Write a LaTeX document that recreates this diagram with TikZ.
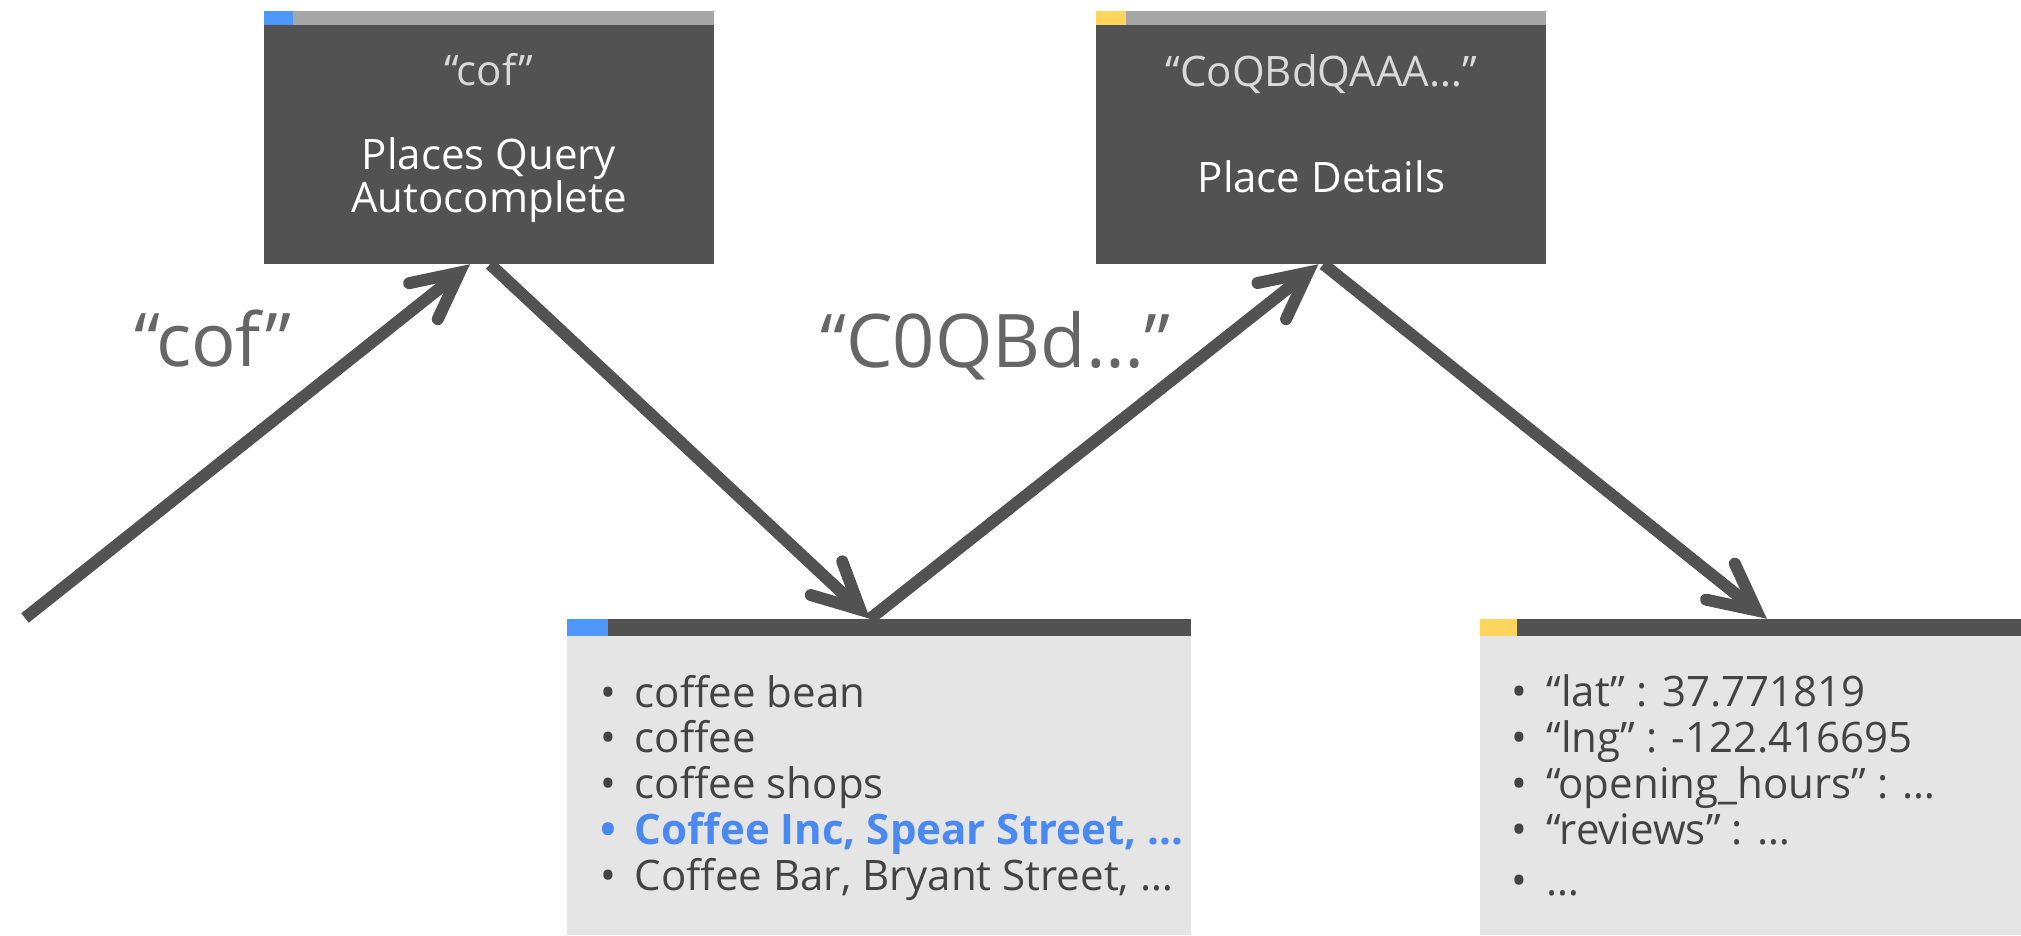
\documentclass[tikz,border=0pt]{standalone}
\usepackage{fontspec}
\setmainfont{Open Sans}
\usepackage{xcolor}
\usepackage{tikz}
\usetikzlibrary{arrows.meta,positioning}
\definecolor{boxdark}{RGB}{82,82,82}
\definecolor{stripgray}{RGB}{166,166,166}
\definecolor{acblue}{RGB}{77,152,250}
\definecolor{hlblue}{RGB}{74,137,240}
\definecolor{pdyellow}{RGB}{255,213,94}
\definecolor{listgray}{RGB}{229,229,229}
\definecolor{listtext}{RGB}{67,67,67}
\definecolor{labelgray}{RGB}{102,102,102}
\definecolor{quotegray}{RGB}{217,217,217}
\tikzset{
  apibox/.style={rectangle, fill=boxdark, minimum width=450pt, minimum height=253pt, inner sep=0pt},
  listbox/.style={rectangle, fill=listgray, minimum height=316pt, inner sep=0pt},
  boxquote/.style={anchor=base, text=quotegray, font=\fontsize{42}{43}\selectfont, inner sep=0pt},
  boxtitle/.style={anchor=north, align=center, text=white, font=\fontsize{42}{43}\selectfont, inner sep=0pt},
  listtxt/.style={anchor=north west, align=left, text=listtext, font=\fontsize{42}{45.75}\selectfont, inner sep=0pt},
  flowlabel/.style={anchor=base, text=labelgray, font=\fontsize{74}{80}\selectfont, inner sep=0pt},
  arrow/.style={line width=12pt, draw=boxdark, -{Straight Barb[length=46pt, width=46pt, line cap=round, line join=miter]}},
}
\newcommand{\itm}{\makebox[35pt][l]{•}}

\begin{document}
\begin{tikzpicture}[x=1pt, y=1pt]
  \useasboundingbox (0,0) rectangle (2021,935);

  % Autocomplete request
  \node[apibox] (autoc) at (489,797.5) {};
  \fill[stripgray] (autoc.north west) rectangle ++(450,-14);
  \fill[acblue] (autoc.north west) rectangle ++(29,-14);
  \node[boxquote] (autocq) at ([yshift=-75pt]autoc.north) {“cof”};
  \node[boxtitle] (autoct) at ([yshift=-127pt]autoc.north) {Places Query\\Autocomplete};

  % Details request
  \node[apibox, right=382pt of autoc] (pdetail) {};
  \fill[stripgray] (pdetail.north west) rectangle ++(450,-14);
  \fill[pdyellow] (pdetail.north west) rectangle ++(30,-14);
  \node[boxquote] (pdetailq) at ([yshift=-76pt]pdetail.north) {“CoQBdQAAA…”};
  \node[boxtitle] (pdetailt) at ([yshift=-150pt]pdetail.north) {Place Details};

  % Suggestions
  \node[listbox, minimum width=624pt] (aclist) at (879,158) {};
  \fill[boxdark] (aclist.north west) rectangle ++(624,-17);
  \fill[acblue] (aclist.north west) rectangle ++(41,-17);
  \node[listtxt] (aclistt) at ([xshift=33pt, yshift=-56pt]aclist.north west) {%
    \itm coffee bean\\
    \itm coffee\\
    \itm coffee shops\\
    \textcolor{hlblue}{\bfseries\itm Coffee Inc, Spear Street, …}\\
    \itm Coffee Bar, Bryant Street, …};

  % Place result
  \node[listbox, minimum width=541pt, right=289pt of aclist] (pdlist) {};
  \fill[boxdark] (pdlist.north west) rectangle ++(541,-17);
  \fill[pdyellow] (pdlist.north west) rectangle ++(37,-17);
  \node[listtxt] (pdlistt) at ([xshift=31pt, yshift=-56pt]pdlist.north west) {%
    \itm “lat” : 37.771819\\
    \itm “lng” : -122.416695\\
    \itm “opening\_hours” : …\\
    \itm “reviews” : …\\[6pt]
    \itm …};

  % Flow
  \coordinate (qstart) at (25,317);
  \draw[arrow] (qstart) -- ([xshift=-19pt]autoc.south);
  \draw[arrow] ([xshift=1pt]autoc.south) -- ([xshift=-9pt]aclist.north);
  \draw[arrow] ([xshift=-9pt]aclist.north) -- ([xshift=-3pt]pdetail.south);
  \draw[arrow] ([xshift=2pt]pdetail.south) -- ([xshift=16pt]pdlist.north);

  % Labels
  \node[flowlabel] (qlabel) at (213,568) {“cof”};
  \node[flowlabel] (idlabel) at (995,567) {“C0QBd…”};

\end{tikzpicture}
\end{document}
